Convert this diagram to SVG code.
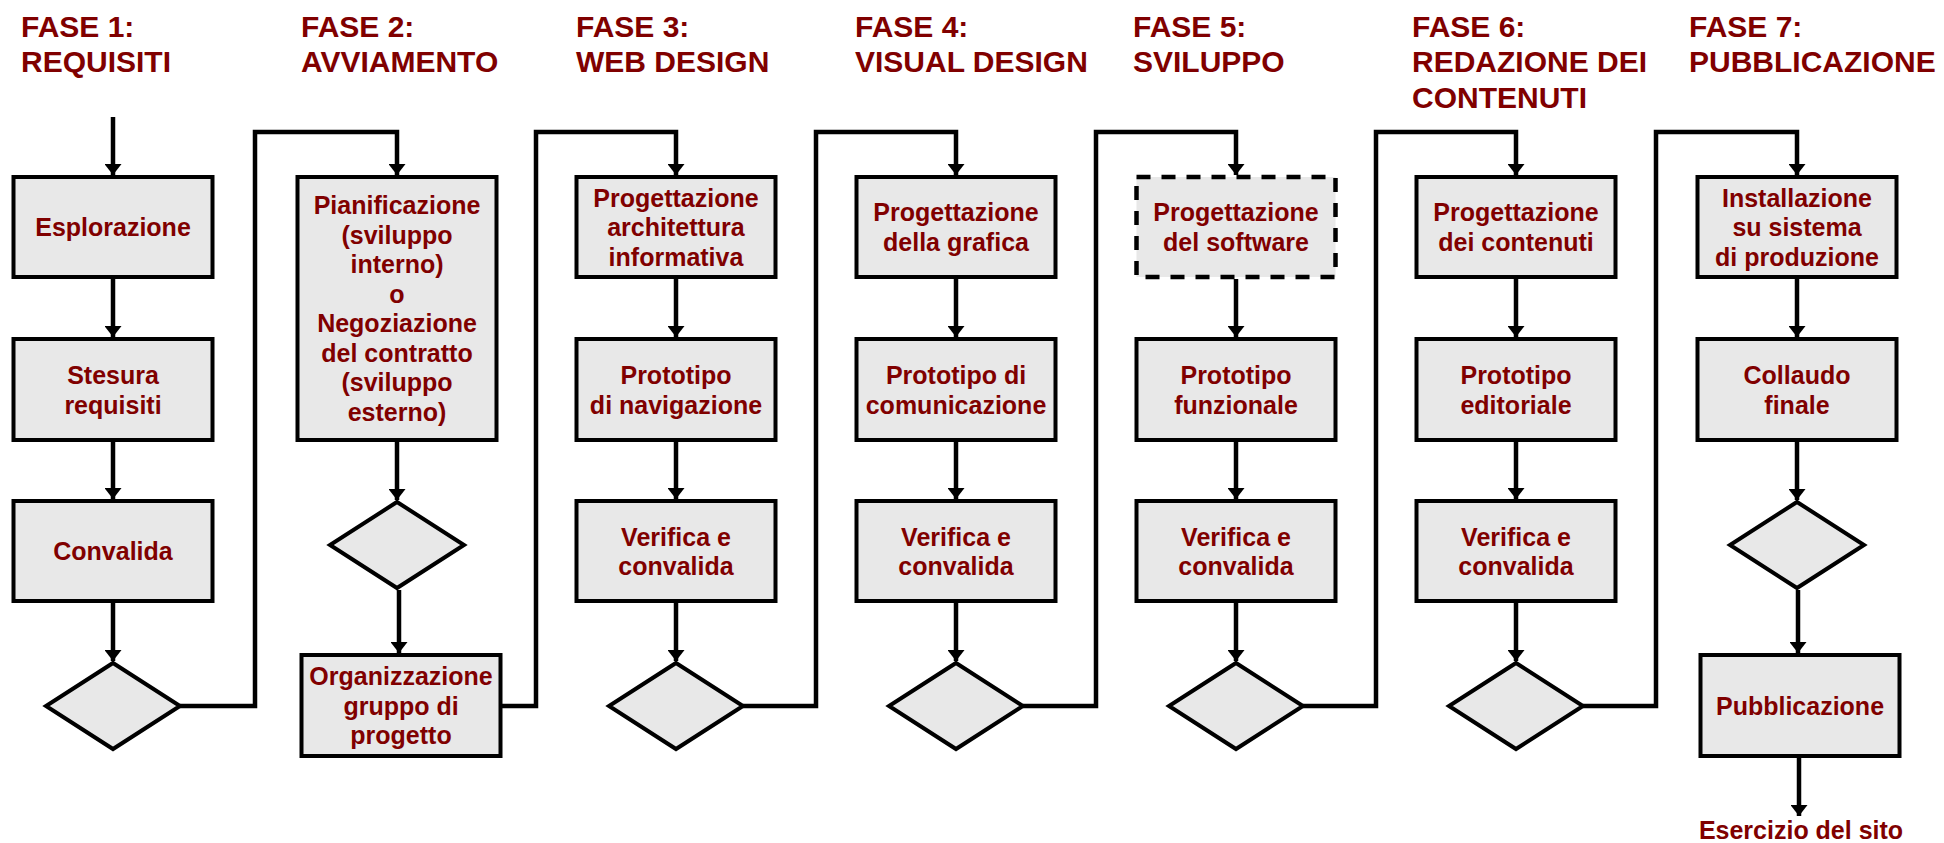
<svg xmlns="http://www.w3.org/2000/svg" width="1944" height="843" viewBox="0 0 1944 843">
<defs>
<style>
.hdr{font-family:"Liberation Sans",Arial,sans-serif;font-weight:bold;font-size:30px;fill:#800000}
.lbl{font-family:"Liberation Sans",Arial,sans-serif;font-weight:bold;font-size:25px;fill:#800000;text-anchor:middle}
.box{fill:#E8E8E8;stroke:#000;stroke-width:4}
.dash{fill:#E8E8E8;stroke:#000;stroke-width:4.5;stroke-dasharray:14 11}
.dia{fill:#E8E8E8;stroke:#000;stroke-width:4;stroke-linejoin:miter}
.con{fill:none;stroke:#000;stroke-width:4.5;stroke-linejoin:miter;stroke-linecap:butt}
.arr{marker-end:url(#ah)}
</style>
<marker id="ah" viewBox="0 0 11 17" refX="11" refY="8.5" markerWidth="11" markerHeight="17" orient="auto" markerUnits="userSpaceOnUse">
<path d="M0,0 L11,8.5 L0,17 z" fill="#000"/>
</marker>
</defs>
<rect width="1944" height="843" fill="#fff"/>

<g id="headers">
<text class="hdr" x="21" y="37">FASE 1:</text><text class="hdr" x="21" y="72">REQUISITI</text>
<text class="hdr" x="301" y="37">FASE 2:</text><text class="hdr" x="301" y="72">AVVIAMENTO</text>
<text class="hdr" x="576" y="37">FASE 3:</text><text class="hdr" x="576" y="72">WEB DESIGN</text>
<text class="hdr" x="855" y="37">FASE 4:</text><text class="hdr" x="855" y="72">VISUAL DESIGN</text>
<text class="hdr" x="1133" y="37">FASE 5:</text><text class="hdr" x="1133" y="72">SVILUPPO</text>
<text class="hdr" x="1412" y="37">FASE 6:</text><text class="hdr" x="1412" y="72">REDAZIONE DEI</text><text class="hdr" x="1412" y="108">CONTENUTI</text>
<text class="hdr" x="1689" y="37">FASE 7:</text><text class="hdr" x="1689" y="72">PUBBLICAZIONE</text>
</g>

<!-- Column 1 -->
<g id="esplorazione"><rect class="box" x="13.5" y="177" width="199" height="100"/><text class="lbl" x="113" y="236">Esplorazione</text></g>
<g id="stesura"><rect class="box" x="13.5" y="339" width="199" height="101"/><text class="lbl" x="113" y="384">Stesura</text><text class="lbl" x="113" y="413.5">requisiti</text></g>
<g id="convalida1"><rect class="box" x="13.5" y="501" width="199" height="100"/><text class="lbl" x="113" y="560">Convalida</text></g>
<g id="decisione1"><polygon class="dia" points="113,663 180,706 113,749 46,706"/></g>

<!-- Column 2 -->
<g id="pianificazione"><rect class="box" x="297.5" y="177" width="199" height="263"/>
<text class="lbl" x="397" y="214.25">Pianificazione</text>
<text class="lbl" x="397" y="243.75">(sviluppo</text>
<text class="lbl" x="397" y="273.25">interno)</text>
<text class="lbl" x="397" y="302.75">o</text>
<text class="lbl" x="397" y="332.25">Negoziazione</text>
<text class="lbl" x="397" y="361.75">del contratto</text>
<text class="lbl" x="397" y="391.25">(sviluppo</text>
<text class="lbl" x="397" y="420.75">esterno)</text></g>
<g id="decisione2"><polygon class="dia" points="397,502 464,545 397,588 330,545"/></g>
<g id="organizzazione"><rect class="box" x="301.5" y="655" width="199" height="101"/><text class="lbl" x="401" y="685">Organizzazione</text><text class="lbl" x="401" y="714.5">gruppo di</text><text class="lbl" x="401" y="744">progetto</text></g>

<!-- Column 3 -->
<g id="architettura"><rect class="box" x="576.5" y="177" width="199" height="100"/><text class="lbl" x="676" y="206.5">Progettazione</text><text class="lbl" x="676" y="236">architettura</text><text class="lbl" x="676" y="265.5">informativa</text></g>
<g id="prototipo-navigazione"><rect class="box" x="576.5" y="339" width="199" height="101"/><text class="lbl" x="676" y="384">Prototipo</text><text class="lbl" x="676" y="413.5">di navigazione</text></g>
<g id="verifica3"><rect class="box" x="576.5" y="501" width="199" height="100"/><text class="lbl" x="676" y="545.5">Verifica e</text><text class="lbl" x="676" y="575">convalida</text></g>
<g id="decisione3"><polygon class="dia" points="676,663 743,706 676,749 609,706"/></g>

<!-- Column 4 -->
<g id="grafica"><rect class="box" x="856.5" y="177" width="199" height="100"/><text class="lbl" x="956" y="221.25">Progettazione</text><text class="lbl" x="956" y="250.75">della grafica</text></g>
<g id="prototipo-comunicazione"><rect class="box" x="856.5" y="339" width="199" height="101"/><text class="lbl" x="956" y="384">Prototipo di</text><text class="lbl" x="956" y="413.5">comunicazione</text></g>
<g id="verifica4"><rect class="box" x="856.5" y="501" width="199" height="100"/><text class="lbl" x="956" y="545.5">Verifica e</text><text class="lbl" x="956" y="575">convalida</text></g>
<g id="decisione4"><polygon class="dia" points="956,663 1023,706 956,749 889,706"/></g>

<!-- Column 5 -->
<g id="software"><rect class="dash" x="1136.5" y="177" width="199" height="100"/><text class="lbl" x="1236" y="221.25">Progettazione</text><text class="lbl" x="1236" y="250.75">del software</text></g>
<g id="prototipo-funzionale"><rect class="box" x="1136.5" y="339" width="199" height="101"/><text class="lbl" x="1236" y="384">Prototipo</text><text class="lbl" x="1236" y="413.5">funzionale</text></g>
<g id="verifica5"><rect class="box" x="1136.5" y="501" width="199" height="100"/><text class="lbl" x="1236" y="545.5">Verifica e</text><text class="lbl" x="1236" y="575">convalida</text></g>
<g id="decisione5"><polygon class="dia" points="1236,663 1303,706 1236,749 1169,706"/></g>

<!-- Column 6 -->
<g id="contenuti"><rect class="box" x="1416.5" y="177" width="199" height="100"/><text class="lbl" x="1516" y="221.25">Progettazione</text><text class="lbl" x="1516" y="250.75">dei contenuti</text></g>
<g id="prototipo-editoriale"><rect class="box" x="1416.5" y="339" width="199" height="101"/><text class="lbl" x="1516" y="384">Prototipo</text><text class="lbl" x="1516" y="413.5">editoriale</text></g>
<g id="verifica6"><rect class="box" x="1416.5" y="501" width="199" height="100"/><text class="lbl" x="1516" y="545.5">Verifica e</text><text class="lbl" x="1516" y="575">convalida</text></g>
<g id="decisione6"><polygon class="dia" points="1516,663 1583,706 1516,749 1449,706"/></g>

<!-- Column 7 -->
<g id="installazione"><rect class="box" x="1697.5" y="177" width="199" height="100"/><text class="lbl" x="1797" y="206.5">Installazione</text><text class="lbl" x="1797" y="236">su sistema</text><text class="lbl" x="1797" y="265.5">di produzione</text></g>
<g id="collaudo"><rect class="box" x="1697.5" y="339" width="199" height="101"/><text class="lbl" x="1797" y="384">Collaudo</text><text class="lbl" x="1797" y="413.5">finale</text></g>
<g id="decisione7"><polygon class="dia" points="1797,502 1864,545 1797,588 1730,545"/></g>
<g id="pubblicazione"><rect class="box" x="1700.5" y="655" width="199" height="101"/><text class="lbl" x="1800" y="714.5">Pubblicazione</text></g>
<g id="esercizio"><text class="lbl" x="1801" y="839">Esercizio del sito</text></g>

<g id="connectors">
<path class="con arr" d="M113,117 V175"/>
<path class="con arr" d="M113,279 V337"/>
<path class="con arr" d="M113,442 V499"/>
<path class="con arr" d="M113,603 V661"/>
<path class="con arr" d="M180,706 H255 V132 H397 V175"/>

<path class="con arr" d="M397,442 V500"/>
<path class="con arr" d="M399,590 V653"/>
<path class="con arr" d="M502,706 H536 V132 H676 V175"/>

<path class="con arr" d="M676,279 V337"/>
<path class="con arr" d="M676,442 V499"/>
<path class="con arr" d="M676,603 V661"/>
<path class="con arr" d="M743,706 H816 V132 H956 V175"/>

<path class="con arr" d="M956,279 V337"/>
<path class="con arr" d="M956,442 V499"/>
<path class="con arr" d="M956,603 V661"/>
<path class="con arr" d="M1023,706 H1096 V132 H1236 V175"/>

<path class="con arr" d="M1236,279 V337"/>
<path class="con arr" d="M1236,442 V499"/>
<path class="con arr" d="M1236,603 V661"/>
<path class="con arr" d="M1303,706 H1376 V132 H1516 V175"/>

<path class="con arr" d="M1516,279 V337"/>
<path class="con arr" d="M1516,442 V499"/>
<path class="con arr" d="M1516,603 V661"/>
<path class="con arr" d="M1583,706 H1656 V132 H1797 V175"/>

<path class="con arr" d="M1797,279 V337"/>
<path class="con arr" d="M1797,442 V500"/>
<path class="con arr" d="M1798,590 V653"/>
<path class="con arr" d="M1799,758 V816"/>
</g>
</svg>
